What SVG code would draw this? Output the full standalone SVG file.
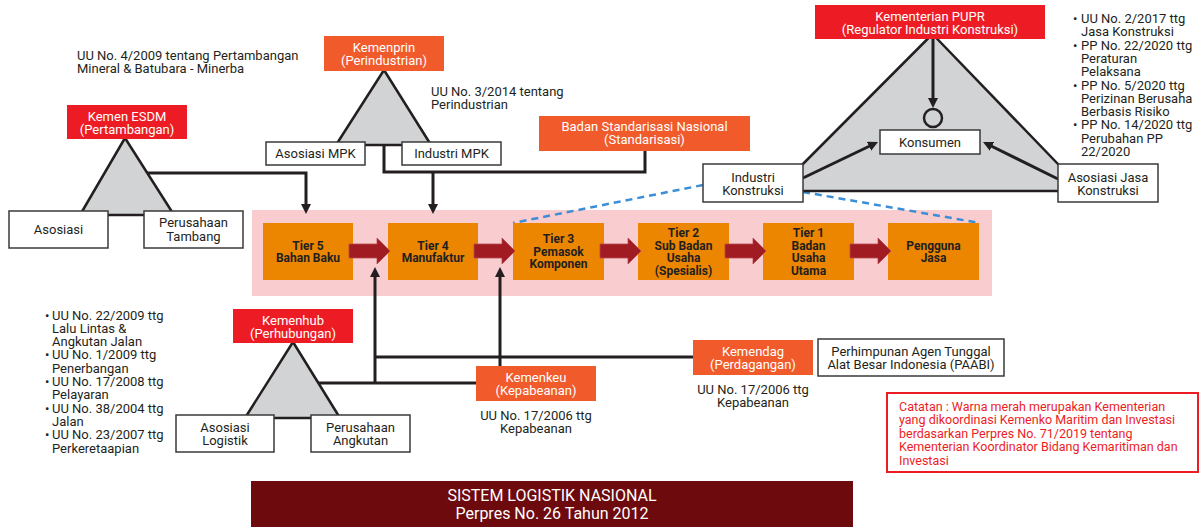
<svg xmlns="http://www.w3.org/2000/svg" width="1201" height="527" viewBox="0 0 1201 527">
  <style>
    text { font-family: Roboto, "Liberation Sans", sans-serif; font-size: 13px; fill: #231F20; }
    .c { text-anchor: middle; }
    .w { fill: #ffffff; }
    .tier { font-weight: bold; font-size: 12px; text-anchor: middle; }
    .box { fill: #ffffff; stroke: #3a3a3a; stroke-width: 1.5; }
    .red { fill: #ED1C24; }
    .org { fill: #F15A2B; }
    .tri { fill: #D1D3D4; stroke: #231F20; stroke-width: 2.5; stroke-linejoin: round; }
    .tbox { fill: #EC8500; }
    .flow { fill: #A01C22; stroke: #B8474B; stroke-width: 0.8; }
    .link { fill: none; stroke: #231F20; stroke-width: 3; }
    .dash { fill: none; stroke: #3A8FD8; stroke-width: 2.5; stroke-dasharray: 7 5; }
    .note { fill: #ED1C24; font-size: 12.5px; }
    .banner { font-size: 16px; }
  </style>
  <defs>
    <marker id="ah" viewBox="0 0 10 10" refX="2" refY="5" markerWidth="10" markerHeight="10" markerUnits="userSpaceOnUse" orient="auto">
      <path d="M0,0 L10,5 L0,10 z" fill="#231F20"/>
    </marker>
  </defs>

  <!-- supply chain band -->
  <rect x="252" y="210" width="740" height="86" fill="#F9CDD0"/>

  <!-- dashed links from Industri Konstruksi to the chain -->
  <g id="dashed-links">
    <path class="dash" d="M703,185 L513,223"/>
    <path class="dash" d="M803,192 L980,223"/>
  </g>

  <g id="tiers">
    <g id="tier5"><rect class="tbox" x="263" y="223" width="90" height="57"/>
      <text class="tier" x="308" y="249.5">Tier 5</text><text class="tier" x="308" y="262">Bahan Baku</text></g>
    <g id="tier4"><rect class="tbox" x="388" y="223" width="90" height="57"/>
      <text class="tier" x="433" y="249.5">Tier 4</text><text class="tier" x="433" y="262">Manufaktur</text></g>
    <g id="tier3"><rect class="tbox" x="513" y="223" width="91" height="57"/>
      <text class="tier" x="558.5" y="243.3">Tier 3</text><text class="tier" x="558.5" y="255.8">Pemasok</text><text class="tier" x="558.5" y="268.3">Komponen</text></g>
    <g id="tier2"><rect class="tbox" x="638" y="223" width="91" height="57"/>
      <text class="tier" x="683.5" y="237">Tier 2</text><text class="tier" x="683.5" y="249.5">Sub Badan</text><text class="tier" x="683.5" y="262">Usaha</text><text class="tier" x="683.5" y="274.5">(Spesialis)</text></g>
    <g id="tier1"><rect class="tbox" x="763" y="223" width="91" height="57"/>
      <text class="tier" x="808.5" y="237">Tier 1</text><text class="tier" x="808.5" y="249.5">Badan</text><text class="tier" x="808.5" y="262">Usaha</text><text class="tier" x="808.5" y="274.5">Utama</text></g>
    <g id="pengguna"><rect class="tbox" x="888" y="223" width="91" height="57"/>
      <text class="tier" x="933.5" y="249.5">Pengguna</text><text class="tier" x="933.5" y="262">Jasa</text></g>
  </g>

  <!-- flow arrows between tiers -->
  <g id="flow-arrows">
    <path class="flow" d="M349,244 H377 V238 L390,251 L377,264 V258 H349 z"/>
    <path class="flow" d="M474,244 H502 V238 L515,251 L502,264 V258 H474 z"/>
    <path class="flow" d="M600,244 H628 V238 L641,251 L628,264 V258 H600 z"/>
    <path class="flow" d="M725,244 H753 V238 L766,251 L753,264 V258 H725 z"/>
    <path class="flow" d="M850,244 H878 V238 L891,251 L878,264 V258 H850 z"/>
  </g>

  <!-- connectors -->
  <g id="connectors">
    <path class="link" d="M147,173 H306 V206" marker-end="url(#ah)"/>
    <path class="link" d="M384,145 V172 H645 V150"/>
    <path class="link" d="M433,172 V206" marker-end="url(#ah)"/>
    <path class="link" d="M318,383 H476"/>
    <path class="link" d="M375,383 V275" marker-end="url(#ah)"/>
    <path class="link" d="M375,357 H693"/>
    <path class="link" d="M500,366 V275" marker-end="url(#ah)"/>
  </g>

  <!-- ESDM cluster -->
  <g id="esdm">
    <polygon class="tri" points="125,138 80,215 174,215"/>
    <rect class="red" x="67" y="105" width="120" height="34"/>
    <text class="c w" x="127" y="120.5">Kemen ESDM</text>
    <text class="c w" x="127" y="133.5">(Pertambangan)</text>
  </g>
  <g id="asosiasi"><rect class="box" x="9" y="211" width="99" height="37"/><text class="c" x="58.5" y="234">Asosiasi</text></g>
  <g id="perusahaan-tambang"><rect class="box" x="144" y="211" width="99" height="37"/>
    <text class="c" x="193.5" y="226.5">Perusahaan</text><text class="c" x="193.5" y="240.5">Tambang</text></g>
  <text x="77" y="59.5">UU No. 4/2009 tentang Pertambangan</text>
  <text x="77" y="72.5">Mineral &amp; Batubara - Minerba</text>

  <!-- Kemenprin cluster -->
  <g id="kemenprin">
    <polygon class="tri" points="384,70 336,145 431,145"/>
    <rect class="org" x="324" y="36" width="120" height="35"/>
    <text class="c w" x="384" y="51.5">Kemenprin</text>
    <text class="c w" x="384" y="64.5">(Perindustrian)</text>
  </g>
  <g id="asosiasi-mpk"><rect class="box" x="266" y="142" width="99" height="23"/><text class="c" x="315.5" y="158">Asosiasi MPK</text></g>
  <g id="industri-mpk"><rect class="box" x="402" y="142" width="99" height="23"/><text class="c" x="451.5" y="158">Industri MPK</text></g>
  <text x="431" y="96">UU No. 3/2014 tentang</text>
  <text x="431" y="109">Perindustrian</text>

  <g id="bsn">
    <rect class="org" x="539" y="116" width="211" height="35"/>
    <text class="c w" x="644.5" y="130.5">Badan Standarisasi Nasional</text>
    <text class="c w" x="644.5" y="143.5">(Standarisasi)</text>
  </g>

  <!-- PUPR cluster -->
  <g id="pupr">
    <polygon class="tri" points="932.5,34 776,191 1084,191"/>
    <circle cx="933" cy="118" r="9" fill="none" stroke="#231F20" stroke-width="2.5"/>
    <rect class="red" x="815" y="5" width="230" height="34"/>
    <text class="c w" x="930" y="20.5">Kementerian PUPR</text>
    <text class="c w" x="930" y="33.5">(Regulator Industri Konstruksi)</text>
  </g>
  <g id="pupr-links">
    <path class="link" d="M933,39 V100" marker-end="url(#ah)"/>
    <path class="link" d="M803,178 L870.8,145.5" marker-end="url(#ah)"/>
    <path class="link" d="M1058,179 L990.2,145.5" marker-end="url(#ah)"/>
  </g>
  <g id="konsumen"><rect class="box" x="880" y="130" width="100" height="24"/><text class="c" x="930" y="146.5">Konsumen</text></g>
  <g id="industri-konstruksi"><rect class="box" x="703" y="164" width="100" height="38"/>
    <text class="c" x="753" y="181.5">Industri</text><text class="c" x="753" y="194.5">Konstruksi</text></g>
  <g id="asosiasi-jasa"><rect class="box" x="1058" y="164" width="100" height="38"/>
    <text class="c" x="1108" y="181.5">Asosiasi Jasa</text><text class="c" x="1108" y="195">Konstruksi</text></g>
  <g id="pupr-regulasi">
    <text x="1073" y="23">•</text><text x="1081" y="23">UU No. 2/2017 ttg</text>
    <text x="1081" y="36.3">Jasa Konstruksi</text>
    <text x="1073" y="49.6">•</text><text x="1081" y="49.6">PP No. 22/2020 ttg</text>
    <text x="1081" y="62.9">Peraturan</text>
    <text x="1081" y="76.2">Pelaksana</text>
    <text x="1073" y="89.5">•</text><text x="1081" y="89.5">PP No. 5/2020 ttg</text>
    <text x="1081" y="102.8">Perizinan Berusaha</text>
    <text x="1081" y="116.1">Berbasis Risiko</text>
    <text x="1073" y="129.4">•</text><text x="1081" y="129.4">PP No. 14/2020 ttg</text>
    <text x="1081" y="142.7">Perubahan PP</text>
    <text x="1081" y="156">22/2020</text>
  </g>

  <!-- Kemenhub cluster -->
  <g id="kemenhub">
    <polygon class="tri" points="293,342 245,418 340,418"/>
    <rect class="red" x="233" y="309" width="120" height="34"/>
    <text class="c w" x="293" y="324.5">Kemenhub</text>
    <text class="c w" x="293" y="337.5">(Perhubungan)</text>
  </g>
  <g id="asosiasi-logistik"><rect class="box" x="176" y="415" width="98" height="37"/>
    <text class="c" x="225" y="431.5">Asosiasi</text><text class="c" x="225" y="444.5">Logistik</text></g>
  <g id="perusahaan-angkutan"><rect class="box" x="311" y="415" width="99" height="37"/>
    <text class="c" x="360.5" y="431.5">Perusahaan</text><text class="c" x="360.5" y="444.5">Angkutan</text></g>
  <g id="kemenhub-regulasi">
    <text x="45" y="319.5">•</text><text x="52" y="319.5">UU No. 22/2009 ttg</text>
    <text x="52" y="332.8">Lalu Lintas &amp;</text>
    <text x="52" y="346.1">Angkutan Jalan</text>
    <text x="45" y="359.4">•</text><text x="52" y="359.4">UU No. 1/2009 ttg</text>
    <text x="52" y="372.7">Penerbangan</text>
    <text x="45" y="386">•</text><text x="52" y="386">UU No. 17/2008 ttg</text>
    <text x="52" y="399.3">Pelayaran</text>
    <text x="45" y="412.6">•</text><text x="52" y="412.6">UU No. 38/2004 ttg</text>
    <text x="52" y="425.9">Jalan</text>
    <text x="45" y="439.2">•</text><text x="52" y="439.2">UU No. 23/2007 ttg</text>
    <text x="52" y="452.5">Perkeretaapian</text>
  </g>

  <g id="kemenkeu">
    <rect class="org" x="476" y="366" width="120" height="35"/>
    <text class="c w" x="536" y="381.5">Kemenkeu</text>
    <text class="c w" x="536" y="394.5">(Kepabeanan)</text>
  </g>
  <text class="c" x="536" y="420">UU No. 17/2006 ttg</text>
  <text class="c" x="536" y="433">Kepabeanan</text>

  <g id="kemendag">
    <rect class="org" x="693" y="340" width="120" height="35"/>
    <text class="c w" x="753" y="355.5">Kemendag</text>
    <text class="c w" x="753" y="368.5">(Perdagangan)</text>
  </g>
  <text class="c" x="753" y="394">UU No. 17/2006 ttg</text>
  <text class="c" x="753" y="407">Kepabeanan</text>

  <g id="paabi"><rect class="box" x="818" y="339" width="186" height="37"/>
    <text class="c" x="911" y="356">Perhimpunan Agen Tunggal</text>
    <text class="c" x="911" y="369">Alat Besar Indonesia (PAABI)</text></g>

  <!-- note -->
  <g id="catatan">
    <rect x="887" y="393" width="311" height="79" fill="#ffffff" stroke="#ED1C24" stroke-width="2"/>
    <text class="note" x="899" y="411">Catatan : Warna merah merupakan Kementerian</text>
    <text class="note" x="899" y="424.4">yang dikoordinasi Kemenko Maritim dan Investasi</text>
    <text class="note" x="899" y="437.8">berdasarkan Perpres No. 71/2019 tentang</text>
    <text class="note" x="899" y="451.2">Kementerian Koordinator Bidang Kemaritiman dan</text>
    <text class="note" x="899" y="464.6">Investasi</text>
  </g>

  <!-- title banner -->
  <g id="judul">
    <rect x="251" y="481" width="602" height="46" fill="#6D0A0E"/>
    <text class="c w banner" x="552" y="500.5">SISTEM LOGISTIK NASIONAL</text>
    <text class="c w banner" x="552" y="518.5">Perpres No. 26 Tahun 2012</text>
  </g>
</svg>
